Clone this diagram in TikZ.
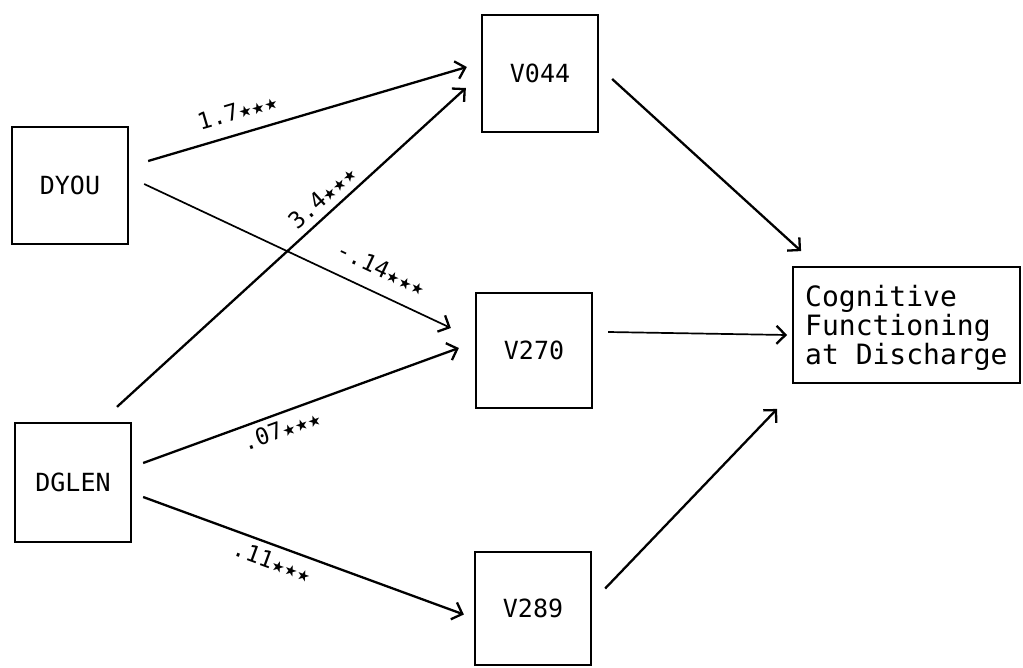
\documentclass[tikz,border=0pt]{standalone}
\usepackage{fontspec}
\setmonofont{DejaVu Sans Mono}
\newfontfamily\starfont{DejaVu Sans}
\usetikzlibrary{arrows.meta,calc}
\newcommand{\stars}{{\starfont\fontsize{15}{15}\selectfont ★★★}}
\tikzset{
  varbox/.style={draw,line width=2.3pt,minimum width=116pt,minimum height=116pt,inner sep=0pt,
    font=\ttfamily\fontsize{25}{25}\selectfont},
  path/.style={line width=2.3pt,-{Straight Barb[length=9pt,width=18pt,line width=2.3pt]}},
  thinpath/.style={line width=1.7pt,-{Straight Barb[length=9pt,width=18pt,line width=2.3pt]}},
  coef/.style={font=\ttfamily\fontsize{23}{23}\selectfont,inner sep=1pt,sloped}
}
\begin{document}
\begin{tikzpicture}[x=1pt,y=-1pt]
\useasboundingbox (0,0) rectangle (1023,667);
\node[varbox,minimum height=117pt] (dyou) at (70,185.5) {DYOU};
\node[varbox,minimum height=119pt] (dglen) at (73,482.5) {DGLEN};
\node[varbox,minimum height=117pt] (v044) at (540,73.5) {V044};
\node[varbox,minimum height=115pt] (v270) at (534,350.5) {V270};
\node[varbox,minimum height=113pt] (v289) at (533,608.5) {V289};
\node[draw,line width=1.8pt,minimum width=227pt,minimum height=116pt,inner sep=0pt] (cog) at (906.5,325) {};
\node[anchor=north west,align=left,inner sep=0pt,font=\ttfamily\fontsize{28}{29}\selectfont]
  (cogtext) at (805,285) {Cognitive\\Functioning\\at Discharge};

\draw[path] ($(dyou.east)+(19,-24.5)$) -- node[coef,pos=0.3,above=12pt] {1.7\stars} ($(v044.west)+(-14,-6.5)$);
\draw[thinpath] ($(dyou.east)+(15,-1.5)$) -- node[coef,pos=0.74,above=14pt] {-.14\stars} ($(v270.west)+(-24,-22.5)$);
\draw[path] ($(dglen.north)+(44,-15)$) -- node[coef,pos=0.62,above=6pt] {3.4\stars} ($(v044.west)+(-15,14.5)$);
\draw[path] ($(dglen.east)+(11,-19.5)$) -- node[coef,pos=0.42,below=5pt] {.07\stars} ($(v270.west)+(-16,-2.5)$);
\draw[path] ($(dglen.east)+(11,14.5)$) -- node[coef,pos=0.42,below=5pt] {.11\stars} ($(v289.west)+(-10,6)$);
\draw[path] ($(v044.east)+(13,5.5)$) -- ($(cog.north west)+(9,-15)$);
\draw[thinpath] ($(v270.east)+(15,-18.5)$) -- ($(cog.west)+(-5,10)$);
\draw[path] ($(v289.east)+(13,-20)$) -- ($(cog.south west)+(-15,25)$);
\end{tikzpicture}
\end{document}
